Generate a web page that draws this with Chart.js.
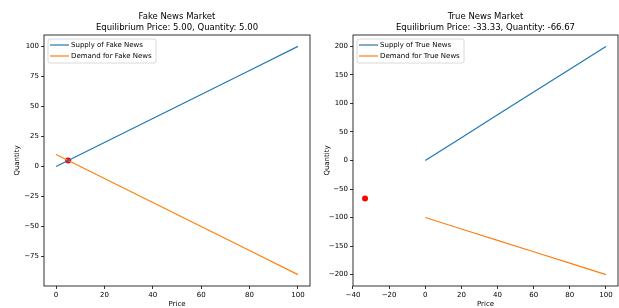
<!DOCTYPE html>
<html>
<head>
<meta charset="utf-8">
<script src="https://cdn.jsdelivr.net/npm/chart.js@4/dist/chart.umd.min.js"></script>
<style>
  html, body { margin: 0; padding: 0; background: #fff; }
  #wrap { position: relative; width: 619px; height: 308px; overflow: hidden; }
  canvas { position: absolute; top: 0; }
  #chartFake { left: 0; }
  #chartTrue { left: 310px; }
</style>
</head>
<body>
<div id="wrap">
  <canvas id="chartFake" width="311" height="308"></canvas>
  <canvas id="chartTrue" width="309" height="308"></canvas>
</div>
<script>
// Prices along the x axis
const prices = [0, 20, 40, 60, 80, 100];

// Fake news market
const supplyFake = [0, 20, 40, 60, 80, 100];
const demandFake = [10, -10, -30, -50, -70, -90];
const eqFake = { price: 5.00, quantity: 5.00 };
const xTicksFake = [0, 20, 40, 60, 80, 100];
const yTicksFake = [-75, -50, -25, 0, 25, 50, 75, 100];

// True news market
const supplyTrue = [0, 40, 80, 120, 160, 200];
const demandTrue = [-100, -120, -140, -160, -180, -200];
const eqTrue = { price: -33.33, quantity: -66.67 };
const xTicksTrue = [-40, -20, 0, 20, 40, 60, 80, 100];
const yTicksTrue = [-200, -150, -100, -50, 0, 50, 100, 150, 200];

const FONT = '"DejaVu Sans", sans-serif';
const BLUE = '#1f77b4', ORANGE = '#ff7f0e';

// title, frame and legend drawn like matplotlib
const decor = {
  id: 'decor',
  afterDatasetsDraw(chart, args, opts) {
    const { ctx, chartArea: a } = chart;
    ctx.save();
    ctx.strokeStyle = '#000';
    ctx.lineWidth = 0.8;
    ctx.strokeRect(a.left, a.top, a.right - a.left, a.bottom - a.top);

    ctx.fillStyle = '#000';
    ctx.font = '8.5px ' + FONT;
    ctx.textAlign = 'center';
    ctx.textBaseline = 'middle';
    const cx = (a.left + a.right) / 2;
    opts.title.forEach((t, i) => ctx.fillText(t, cx, a.top - 18 + i * 11));

    // legend box
    const lx = a.left + 4, ly = a.top + 4;
    ctx.beginPath();
    ctx.roundRect(lx, ly, opts.legendWidth, 24, 2);
    ctx.fillStyle = 'rgba(255,255,255,0.8)';
    ctx.fill();
    ctx.strokeStyle = '#d0d0d0';
    ctx.lineWidth = 0.8;
    ctx.stroke();
    ctx.font = '7px ' + FONT;
    ctx.textAlign = 'left';
    chart.data.datasets.slice(0, 2).forEach((ds, i) => {
      const y = ly + 6 + i * 11;
      ctx.strokeStyle = ds.borderColor;
      ctx.lineWidth = 1.2;
      ctx.beginPath();
      ctx.moveTo(lx + 2, y);
      ctx.lineTo(lx + 21, y);
      ctx.stroke();
      ctx.fillStyle = '#000';
      ctx.fillText(ds.label, lx + 23, y + 0.5);
    });
    ctx.restore();
  }
};

function pad(lo, hi) {
  const m = (hi - lo) * 0.05;
  return [lo - m, hi + m];
}

function fmt(v) {
  return String(v).replace('-', '\u2212');
}

function makeChart(id, name, supply, demand, eq, xTicks, yTicks, yWidth, legendWidth) {
  const xs = prices.concat([eq.price]);
  const ys = supply.concat(demand, [eq.quantity]);
  const [xmin, xmax] = pad(Math.min(...xs), Math.max(...xs));
  const [ymin, ymax] = pad(Math.min(...ys), Math.max(...ys));
  const tickFont = { family: FONT, size: 7 };
  const gridOpts = { drawOnChartArea: false, drawTicks: true, tickLength: 3, color: '#000', lineWidth: 0.8 };
  const noPad = s => { s.paddingLeft = 0; s.paddingRight = 0; s.paddingTop = 0; s.paddingBottom = 0; };

  return new Chart(document.getElementById(id), {
    type: 'scatter',
    data: {
      datasets: [
        {
          label: 'Supply of ' + name,
          data: prices.map((p, i) => ({ x: p, y: supply[i] })),
          showLine: true, borderColor: BLUE, borderWidth: 1.2, pointRadius: 0
        },
        {
          label: 'Demand for ' + name,
          data: prices.map((p, i) => ({ x: p, y: demand[i] })),
          showLine: true, borderColor: ORANGE, borderWidth: 1.2, pointRadius: 0
        },
        {
          label: 'Equilibrium',
          data: [{ x: eq.price, y: eq.quantity }],
          showLine: false, pointRadius: 3, pointBackgroundColor: '#ff0000', pointBorderWidth: 0
        }
      ]
    },
    options: {
      responsive: false,
      animation: false,
      layout: { autoPadding: false, padding: { top: 35, left: 0, right: 1, bottom: 0 } },
      plugins: {
        legend: { display: false },
        title: { display: false },
        tooltip: { enabled: false },
        decor: {
          title: [name + ' Market', 'Equilibrium Price: ' + eq.price.toFixed(2) + ', Quantity: ' + eq.quantity.toFixed(2)],
          legendWidth: legendWidth
        }
      },
      scales: {
        x: {
          type: 'linear', min: xmin, max: xmax,
          afterBuildTicks: ax => { ax.ticks = xTicks.map(v => ({ value: v })); },
          afterFit: s => { s.height = 22; noPad(s); },
          ticks: { font: tickFont, color: '#000', padding: 2, maxRotation: 0, autoSkip: false, callback: fmt },
          grid: gridOpts,
          border: { display: false },
          title: { display: true, text: 'Price', font: tickFont, color: '#000', padding: { top: 0, bottom: 0 } }
        },
        y: {
          type: 'linear', min: ymin, max: ymax,
          afterBuildTicks: ax => { ax.ticks = yTicks.map(v => ({ value: v })); },
          afterFit: s => { s.width = yWidth; noPad(s); },
          ticks: { font: tickFont, color: '#000', padding: 2, autoSkip: false, callback: fmt },
          grid: gridOpts,
          border: { display: false },
          title: { display: true, text: 'Quantity', font: tickFont, color: '#000', padding: { top: 13, bottom: 0 } }
        }
      }
    },
    plugins: [decor]
  });
}

makeChart('chartFake', 'Fake News', supplyFake, demandFake, eqFake, xTicksFake, yTicksFake, 44, 108);
makeChart('chartTrue', 'True News', supplyTrue, demandTrue, eqTrue, xTicksTrue, yTicksTrue, 43, 107);
</script>
</body>
</html>
